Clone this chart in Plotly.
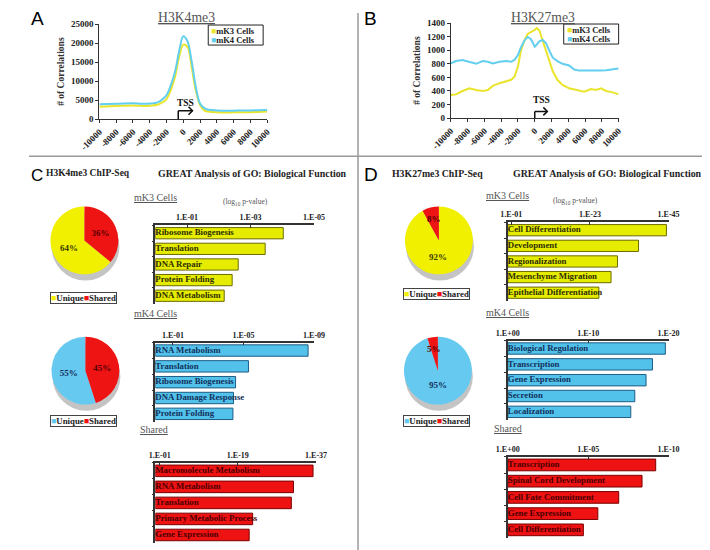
import plotly.graph_objects as go

W, H = 710, 550
SERIF = "Liberation Serif"
SANS = "Liberation Sans"

# ---------------- data ----------------
A_pos = [-10000, -8000, -6000, -5000, -4000, -3000, -2500, -2000, -1500, -1000, -500, 0,
         500, 1000, 1500, 2000, 2500, 3000, 4000, 5000, 6000, 7000, 8000, 9000, 10000]
A_mK3 = [3250, 3450, 3600, 3500, 3550, 3850, 4400, 5300, 7600, 11000, 16300, 19600,
         19000, 13700, 7400, 3700, 2300, 2000, 1800, 1750, 1800, 1850, 1850, 1900, 2000]
A_mK4 = [3950, 4050, 4200, 4050, 4100, 4500, 5200, 6300, 8800, 12300, 17800, 21800,
         20500, 15200, 8400, 4100, 2900, 2500, 2300, 2200, 2250, 2300, 2300, 2350, 2400]

B_pos = [-10000, -9400, -8600, -7800, -7000, -6200, -5600, -5000, -4200, -3400, -2800, -2400,
         -2000, -1650, -1250, -850, -500, -250, 0, 250, 550, 950, 1350, 1750, 2150, 2700,
         3300, 4100, 4700, 5300, 5900, 6700, 7300, 7900, 8500, 9300, 10000]
B_mK3 = [340, 350, 400, 440, 415, 400, 415, 475, 515, 550, 565, 615,
         765, 990, 1140, 1240, 1260, 1280, 1300, 1325, 1290, 1140, 990, 815, 690, 565,
         490, 440, 425, 415, 390, 430, 415, 440, 400, 380, 350]
B_mK4 = [805, 840, 855, 825, 800, 840, 830, 805, 830, 840, 830, 860,
         930, 1040, 1140, 1195, 1170, 1115, 1050, 1085, 1130, 1150, 1100, 990, 890, 840,
         800, 775, 715, 700, 700, 690, 695, 700, 705, 715, 730]

profile_xticks = [-10000, -8000, -6000, -4000, -2000, 0, 2000, 4000, 6000, 8000, 10000]
A_yticks = [0, 5000, 10000, 15000, 20000, 25000]
B_yticks = [0, 200, 400, 600, 800, 1000, 1200, 1400]

pie_labels = ["Unique", "Shared"]
C_pie_mK3 = [64, 36]
C_pie_mK4 = [55, 45]
D_pie_mK3 = [92, 8]
D_pie_mK4 = [95, 5]

C_mK3_terms = ["Ribosome Biogenesis", "Translation", "DNA Repair", "Protein Folding", "DNA Metabolism"]
C_mK3_vals = [4.03, 3.46, 2.61, 2.42, 2.17]
C_mK3_tickvals = [1, 3, 5]
C_mK3_ticktext = ["1.E-01", "1.E-03", "1.E-05"]

C_mK4_terms = ["RNA Metabolism", "Translation", "Ribosome Biogenesis", "DNA Damage Response", "Protein Folding"]
C_mK4_vals = [8.66, 5.28, 4.55, 4.43, 4.40]
C_mK4_tickvals = [1, 5, 9]
C_mK4_ticktext = ["1.E-01", "1.E-05", "1.E-09"]

C_sh_terms = ["Macromolecule Metabolism", "RNA Metabolism", "Translation", "Primary Metabolic Process", "Gene Expression"]
C_sh_vals = [36.3, 31.8, 31.3, 22.4, 21.6]
C_sh_tickvals = [1, 19, 37]
C_sh_ticktext = ["1.E-01", "1.E-19", "1.E-37"]

D_mK3_terms = ["Cell Differentiation", "Development", "Regionalization", "Mesenchyme Migration", "Epithelial Differentiation"]
D_mK3_vals = [44.4, 36.6, 30.7, 28.9, 25.5]
D_mK3_tickvals = [1, 23, 45]
D_mK3_ticktext = ["1.E-01", "1.E-23", "1.E-45"]

D_mK4_terms = ["Biological Regulation", "Transcription", "Gene Expression", "Secretion", "Localization"]
D_mK4_vals = [19.6, 18.0, 17.2, 15.8, 15.3]
D_mK4_tickvals = [0, 10, 20]
D_mK4_ticktext = ["1.E+00", "1.E-10", "1.E-20"]

D_sh_terms = ["Transcription", "Spinal Cord Development", "Cell Fate Commitment", "Gene Expression", "Cell Differentiation"]
D_sh_vals = [9.2, 8.35, 6.9, 5.6, 4.7]
D_sh_tickvals = [0, 5, 10]
D_sh_ticktext = ["1.E+00", "1.E-05", "1.E-10"]

# ---------------- styles ----------------
YEL_LINE = "#EAE52C"
CYAN_LINE = "#62CFEF"
YEL_PIE = "#F0F000"
BLUE_PIE = "#66C9EF"
RED = "#EE1414"
YEL_BAR = "#E6EC00"
BLUE_BAR = "#52C2EA"
RED_BAR = "#EE1212"
AXC = "#333333"

# Layout is specified in target-picture pixels; the photographed plot area was measured
# to start at (27.5, 13) and span 679 x 539 px, so positions are mapped into paper units.
OX, OY, SX, SY = 27.5, 13.0, 679.0, 539.0


def fx(px):
    return max(0.0, (px - OX) / SX)


def fy(py):
    return 1 - (py - OY) / SY


def dx(l, r):
    return [fx(l), fx(r)]


def dy(t, b):
    return [fy(b), fy(t)]


fig = go.Figure()

# ---------------- profile plots (A, B) ----------------
fig.add_trace(go.Scatter(x=A_pos, y=A_mK3, mode="lines", line=dict(color=YEL_LINE, width=2, shape="spline"),
                         xaxis="x", yaxis="y", showlegend=False, hoverinfo="skip"))
fig.add_trace(go.Scatter(x=A_pos, y=A_mK4, mode="lines", line=dict(color=CYAN_LINE, width=2, shape="spline"),
                         xaxis="x", yaxis="y", showlegend=False, hoverinfo="skip"))
fig.add_trace(go.Scatter(x=B_pos, y=B_mK3, mode="lines", line=dict(color=YEL_LINE, width=2),
                         xaxis="x2", yaxis="y2", showlegend=False, hoverinfo="skip"))
fig.add_trace(go.Scatter(x=B_pos, y=B_mK4, mode="lines", line=dict(color=CYAN_LINE, width=2),
                         xaxis="x2", yaxis="y2", showlegend=False, hoverinfo="skip"))

tickfont_bold = dict(family=SERIF, size=9, color="#222", weight="bold")


def profile_axes(xd, yd, yr, ytv, yanchor, xanchor):
    xa = dict(domain=xd, anchor=yanchor, range=[-10000, 10000], tickvals=profile_xticks,
              ticktext=[str(v) for v in profile_xticks], tickangle=-45, showline=True,
              linecolor=AXC, linewidth=1, ticks="outside", ticklen=3, tickcolor=AXC,
              tickfont=tickfont_bold, showgrid=False, zeroline=False)
    ya = dict(domain=yd, anchor=xanchor, range=yr, tickvals=ytv, ticktext=[str(v) for v in ytv],
              showline=True, linecolor=AXC, linewidth=1, ticks="outside", ticklen=3, tickcolor=AXC,
              tickfont=tickfont_bold, showgrid=False, zeroline=False,
              title=dict(text="# of Correlations", font=dict(family=SERIF, size=9.5, color="#333", weight="bold"),
                         standoff=4))
    return xa, ya


xa1, ya1 = profile_axes(dx(98, 266), dy(24, 119), [0, 25000], A_yticks, "y", "x")
xa2, ya2 = profile_axes(dx(450, 618), dy(23, 118), [0, 1400], B_yticks, "y2", "x2")

# ---------------- pies ----------------
# In C the shared slice runs clockwise from 12 o'clock (rotation = shared share of the circle);
# in D it sits just left of 12 o'clock (rotation 0) and the labels are placed as annotations.
PIE_R = 34
pie_specs = [
    (C_pie_mK3, [YEL_PIE, RED], ["#3d3d00", "#5a0000"], 83, 240, True),
    (C_pie_mK4, [BLUE_PIE, RED], ["#15305a", "#5a0000"], 84, 370, True),
    (D_pie_mK3, [YEL_PIE, RED], ["#3d3d00", "#5a0000"], 438, 240, False),
    (D_pie_mK4, [BLUE_PIE, RED], ["#15305a", "#5a0000"], 437, 370, False),
]
for vals, cols, tcols, cx, cy, shared_right in pie_specs:
    rot = 360.0 * vals[1] / sum(vals) if shared_right else 0
    kw = dict(texttemplate="%{percent:.0%}", textposition="inside", insidetextorientation="horizontal",
              textfont=dict(family=SERIF, size=9, weight="bold", color=tcols)) if shared_right \
        else dict(textinfo="none")
    fig.add_trace(go.Pie(values=vals, labels=pie_labels, sort=False, direction="clockwise", rotation=rot,
                         marker=dict(colors=cols, line=dict(width=0)),
                         domain=dict(x=dx(cx - PIE_R, cx + PIE_R), y=dy(cy - PIE_R, cy + PIE_R)),
                         showlegend=False, hoverinfo="skip", **kw))

# ---------------- bar charts ----------------
bar_specs = [
    (3, C_mK3_terms, C_mK3_vals, YEL_BAR, "#6b6b00", "#2e2e00", [0, 5], C_mK3_tickvals, C_mK3_ticktext, (154, 313), (225, 303)),
    (4, C_mK4_terms, C_mK4_vals, BLUE_BAR, "#1d5c85", "#12305c", [0, 9], C_mK4_tickvals, C_mK4_ticktext, (154, 313), (342, 421)),
    (5, C_sh_terms, C_sh_vals, RED_BAR, "#7a0000", "#4a0000", [0, 37], C_sh_tickvals, C_sh_ticktext, (154, 315), (462, 542)),
    (6, D_mK3_terms, D_mK3_vals, YEL_BAR, "#6b6b00", "#2e2e00", [0, 45], D_mK3_tickvals, D_mK3_ticktext, (507, 668), (222, 300)),
    (7, D_mK4_terms, D_mK4_vals, BLUE_BAR, "#1d5c85", "#12305c", [0, 20], D_mK4_tickvals, D_mK4_ticktext, (507, 668), (340, 419)),
    (8, D_sh_terms, D_sh_vals, RED_BAR, "#7a0000", "#4a0000", [0, 10], D_sh_tickvals, D_sh_ticktext, (507, 668), (456, 537)),
]

layout_axes = {"xaxis": xa1, "yaxis": ya1, "xaxis2": xa2, "yaxis2": ya2}
for idx, terms, vals, fill, outline, tcol, rng, tv, tt, xd, yd in bar_specs:
    xn, yn = "x%d" % idx, "y%d" % idx
    fig.add_trace(go.Bar(y=terms, x=vals, orientation="h", xaxis=xn, yaxis=yn,
                         marker=dict(color=fill, line=dict(color=outline, width=1)),
                         showlegend=False, hoverinfo="skip"))
    fig.add_trace(go.Scatter(y=terms, x=[0] * len(terms), mode="text", text=terms,
                             textposition="middle right", xaxis=xn, yaxis=yn, cliponaxis=False,
                             textfont=dict(family=SERIF, size=8.8, color=tcol, weight="bold"),
                             showlegend=False, hoverinfo="skip"))
    layout_axes["xaxis%d" % idx] = dict(domain=dx(*xd), anchor=yn, side="top", range=rng, tickvals=tv,
                                        ticktext=tt, showline=True, linecolor=AXC, linewidth=1.5,
                                        ticks="inside", ticklen=3, tickcolor=AXC,
                                        tickfont=dict(family=SERIF, size=8, color="#222", weight="bold"),
                                        showgrid=False, zeroline=False)
    layout_axes["yaxis%d" % idx] = dict(domain=dy(*yd), anchor=xn, type="category", autorange="reversed",
                                        showline=True, linecolor=AXC, linewidth=1.5, showticklabels=False,
                                        ticks="outside", tickson="boundaries", ticklen=2, tickcolor=AXC,
                                        showgrid=False, zeroline=False)

# ---------------- annotations ----------------
ann = []


def A(xp, yp, text, size=9, color="#222", family=SERIF, bold=False, xanchor="center", yanchor="middle", **kw):
    f = dict(family=family, size=size, color=color)
    if bold:
        f["weight"] = "bold"
    d = dict(xref="paper", yref="paper", x=fx(xp), y=fy(yp), text=text, showarrow=False,
             font=f, xanchor=xanchor, yanchor=yanchor)
    d.update(kw)
    ann.append(d)


for letter, xp, yp, sz in [("A", 10, 18, 19), ("B", 361, 18, 19), ("C", 10, 175, 17), ("D", 361, 174, 19)]:
    A(xp, yp, letter, size=sz, color="#000", family=SANS, xanchor="left")

A(185, 17, "<u>H3K4me3</u>", size=13.7, color="#555")
A(542, 17, "<u>H3K27me3</u>", size=13.7, color="#555")

shapes = []
# profile legends: bordered box with two entries
for right, top in [(262, 25), (618, 24)]:
    shapes.append(dict(type="rect", xref="paper", yref="paper", x0=fx(right - 55), x1=fx(right),
                       y0=fy(top + 20), y1=fy(top), line=dict(color="#222", width=1), fillcolor="white"))
    A(right - 54, top + 5.5, "<span style='color:%s'>■</span>mK3 Cells" % YEL_LINE, size=8.5, bold=True,
      xanchor="left")
    A(right - 54, top + 15, "<span style='color:%s'>■</span>mK4 Cells" % CYAN_LINE, size=8.5, bold=True,
      xanchor="left")

A(43, 173, "H3K4me3 ChIP-Seq", size=9.5, bold=True, xanchor="left")
A(155, 173, "GREAT Analysis of GO: Biological Function", size=9.9, bold=True, xanchor="left")
A(389, 173, "H3K27me3 ChIP-Seq", size=9.8, bold=True, xanchor="left")
A(510, 173, "GREAT Analysis of GO: Biological Function", size=9.9, bold=True, xanchor="left")

A(154, 197, "<u>mK3 Cells</u>", size=10, color="#555")
A(244, 202, "(log<sub>10</sub> p-value)", size=7.5, color="#555")
A(154, 313, "<u>mK4 Cells</u>", size=10, color="#555")
A(153, 429, "<u>Shared</u>", size=10, color="#555")
A(507, 195, "<u>mK3 Cells</u>", size=10, color="#555")
A(575, 201, "(log<sub>10</sub> p-value)", size=7.5, color="#555")
A(507, 312, "<u>mK4 Cells</u>", size=10, color="#555")
A(507, 428, "<u>Shared</u>", size=10, color="#555")

# D pie percentages (unique share low in the pie, small shared slice at its top edge)
A(437, 257, "%d%%" % D_pie_mK3[0], size=9, bold=True, color="#3d3d00")
A(433, 219, "%d%%" % D_pie_mK3[1], size=9, bold=True, color="#5a0000")
A(437, 384, "%d%%" % D_pie_mK4[0], size=9, bold=True, color="#15305a")
A(433, 348, "%d%%" % D_pie_mK4[1], size=9, bold=True, color="#5a0000")

for cx, cy, c1 in [(82, 297, YEL_PIE), (82, 420, BLUE_PIE), (436, 293, YEL_PIE), (436, 420, BLUE_PIE)]:
    A(cx, cy, "<span style='color:%s'>■</span>Unique<span style='color:%s'>■</span>Shared" % (c1, RED),
      size=8.8, bold=True, bordercolor="#444", borderwidth=1, borderpad=0, bgcolor="white")

# TSS arrows: vertical stem, horizontal shaft, open chevron head, label
for xr, yr, x0, ytop, x1, tx, ty in [("x", "y", -600, 2200, 1100, 250, 4300),
                                     ("x2", "y2", 0, 100, 1500, 800, 265)]:
    shapes.append(dict(type="line", xref=xr, yref=yr, x0=x0, x1=x0, y0=0, y1=ytop,
                       line=dict(color="#111", width=1.5)))
    shapes.append(dict(type="line", xref=xr, yref=yr, x0=x0, x1=x1, y0=ytop, y1=ytop,
                       line=dict(color="#111", width=1.5)))
    shapes.append(dict(type="path", xref=xr, yref=yr, xsizemode="pixel", ysizemode="pixel",
                       xanchor=x1, yanchor=ytop, path="M -4,-4 L 0,0 L -4,4",
                       line=dict(color="#111", width=1.5)))
    ann.append(dict(xref=xr, yref=yr, x=tx, y=ty, text="TSS", showarrow=False,
                    font=dict(family=SERIF, size=9.5, color="#111", weight="bold")))

shapes += [
    dict(type="line", xref="paper", yref="paper", x0=fx(357), x1=fx(357), y0=0, y1=1,
         line=dict(color="#9a9a9a", width=1.5)),
    dict(type="line", xref="paper", yref="paper", x0=0, x1=1, y0=fy(156), y1=fy(156),
         line=dict(color="#9a9a9a", width=1.5)),
]
for vals, cols, tcols, cx, cy, shared_right in pie_specs:
    shapes.append(dict(type="circle", xref="paper", yref="paper", layer="below",
                       x0=fx(cx - PIE_R + 1), x1=fx(cx + PIE_R + 1),
                       y0=fy(cy + PIE_R + 6), y1=fy(cy - PIE_R + 6),
                       fillcolor="#c4c4c4", line=dict(width=0)))

fig.update_layout(width=W, height=H, margin=dict(l=0, r=0, t=0, b=0), paper_bgcolor="white",
                  plot_bgcolor="rgba(0,0,0,0)", bargap=0.28, annotations=ann, shapes=shapes,
                  **layout_axes)

fig.write_html("out.html")
